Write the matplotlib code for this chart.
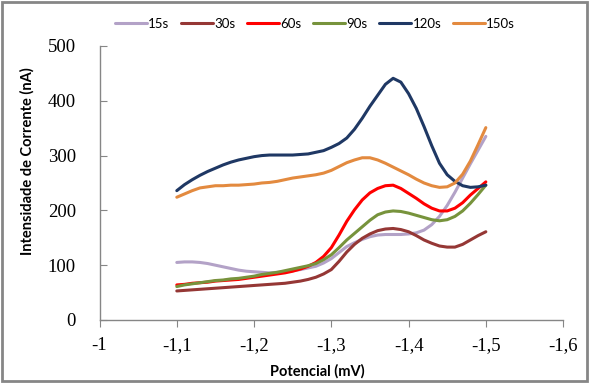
import matplotlib.pyplot as plt
from matplotlib.patches import Rectangle

plt.rcParams['font.family'] = 'Liberation Serif'

# potential (mV), every 0.01
potencial = [-1.10, -1.11, -1.12, -1.13, -1.14, -1.15, -1.16, -1.17, -1.18, -1.19,
             -1.20, -1.21, -1.22, -1.23, -1.24, -1.25, -1.26, -1.27, -1.28, -1.29,
             -1.30, -1.31, -1.32, -1.33, -1.34, -1.35, -1.36, -1.37, -1.38, -1.39,
             -1.40, -1.41, -1.42, -1.43, -1.44, -1.45, -1.46, -1.47, -1.48, -1.49,
             -1.50]

i_15s = [105, 106, 106, 105, 103, 100, 97, 94, 91, 89,
         88, 87, 86, 87, 88, 90, 92, 95, 98, 104,
         112, 123, 134, 141, 147, 152, 155, 156, 156, 156,
         157, 159, 164, 174, 189, 209, 233, 259, 285, 310,
         335]
i_30s = [53, 54, 55, 56, 57, 58, 59, 60, 61, 62,
         63, 64, 65, 66, 67, 69, 71, 74, 78, 84,
         92, 107, 124, 138, 149, 157, 163, 166, 167, 165,
         161, 154, 146, 140, 135, 133, 133, 138, 146, 154,
         161]
i_60s = [64, 65, 67, 68, 69, 71, 72, 73, 74, 76,
         78, 80, 82, 84, 86, 89, 93, 98, 105, 116,
         132, 155, 180, 201, 219, 232, 240, 245, 246, 240,
         231, 222, 212, 204, 199, 199, 204, 214, 228, 240,
         252]
i_90s = [61, 64, 66, 68, 70, 72, 73, 75, 76, 78,
         80, 83, 85, 87, 90, 93, 96, 99, 103, 110,
         119, 132, 146, 158, 170, 182, 192, 197, 199, 198,
         195, 191, 187, 183, 181, 183, 189, 199, 213, 229,
         246]
i_120s = [236, 247, 256, 264, 271, 277, 283, 288, 292, 295,
          298, 300, 301, 301, 301, 301, 302, 303, 306, 309,
          315, 322, 332, 348, 368, 390, 410, 430, 441, 434,
          413, 386, 353, 318, 286, 265, 253, 245, 242, 243,
          246]
i_150s = [224, 230, 236, 241, 243, 245, 245, 246, 246, 247,
          248, 250, 251, 253, 256, 259, 261, 263, 265, 268,
          273, 280, 287, 292, 296, 296, 292, 286, 279, 272,
          265, 257, 250, 245, 242, 243, 250, 266, 290, 320,
          351]

series_names = ['15s', '30s', '60s', '90s', '120s', '150s']
series_colors = ['#B3A2C7', '#953735', '#FF0000', '#77933C', '#1F3864', '#E38A3F']

x_ticks = [-1.0, -1.1, -1.2, -1.3, -1.4, -1.5, -1.6]
x_tick_labels = ['-1', '-1,1', '-1,2', '-1,3', '-1,4', '-1,5', '-1,6']
y_ticks = [0, 100, 200, 300, 400, 500]

fig = plt.figure(figsize=(5.89, 3.83), dpi=100)
ax = fig.add_axes([0.169, 0.1645, 0.787, 0.7155])

all_series = [i_15s, i_30s, i_60s, i_90s, i_120s, i_150s]
for vals, name, col in zip(all_series, series_names, series_colors):
    ax.plot(potencial, vals, color=col, lw=2.2, label=name,
            solid_capstyle='round', solid_joinstyle='round')

ax.set_xlim(-1.0, -1.6)
ax.set_ylim(0, 500)
ax.set_xticks(x_ticks)
ax.set_xticklabels(x_tick_labels)
ax.set_yticks(y_ticks)

for s in ['top', 'right']:
    ax.spines[s].set_visible(False)
for s in ['left', 'bottom']:
    ax.spines[s].set_color('#868686')
    ax.spines[s].set_linewidth(1.0)

ax.tick_params(axis='x', direction='out', length=5, color='#868686', pad=7, labelsize=13.5)
ax.tick_params(axis='y', direction='in', length=5, color='#868686', pad=17, labelsize=13.5)

ax.set_xlabel('Potencial (mV)', family='Lato', fontweight='bold', fontsize=10.5, va='center')
ax.xaxis.set_label_coords(0.47, -0.186)
ax.set_ylabel('Intensidade de Corrente (nA)', family='Lato', fontweight='bold', fontsize=10.5,
              va='center')
ax.yaxis.set_label_coords(-0.156, 0.58)

fig.legend(loc='upper center', bbox_to_anchor=(0.535, 0.985), ncol=6, frameon=False,
           handlelength=2.4, columnspacing=0.9, handletextpad=0.1,
           prop={'family': 'Lato', 'size': 9.5})

fig.patches.append(Rectangle((0.003, 0.004), 0.993, 0.991, transform=fig.transFigure,
                             fill=False, edgecolor='#868686', lw=2))

fig.savefig('out.png', dpi=100)
